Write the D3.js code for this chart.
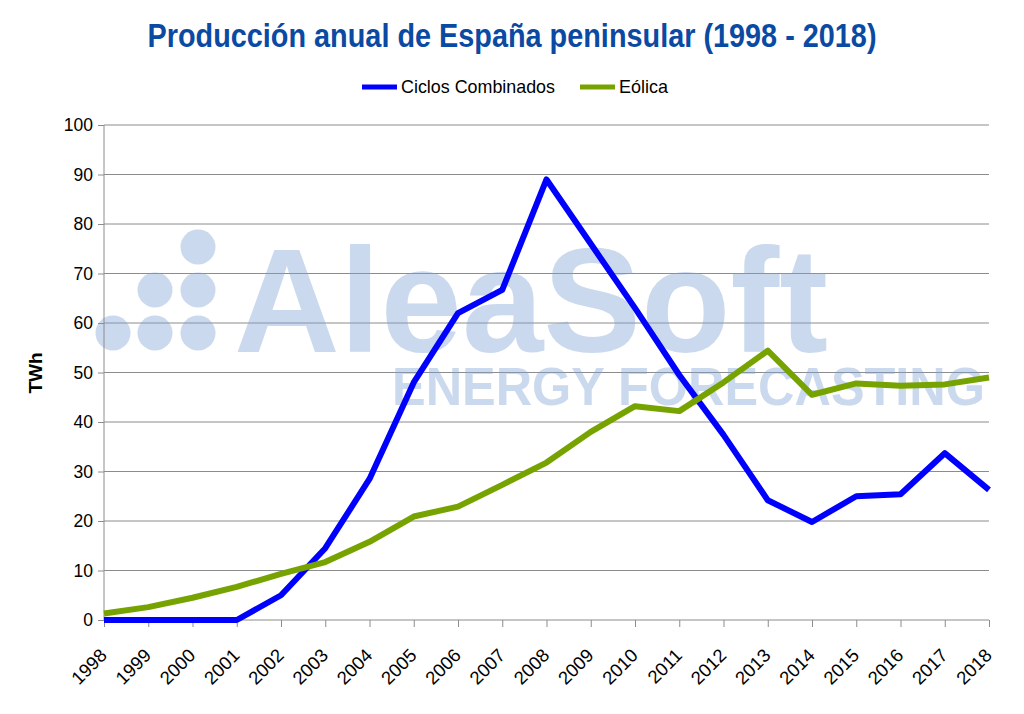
<!DOCTYPE html>
<html><head><meta charset="utf-8">
<script src="https://cdn.jsdelivr.net/npm/d3@7"></script>
<style>body{margin:0;background:#fff;}svg{display:block;}</style>
</head><body>
<svg id="c" width="1024" height="714"></svg>
<script>
const years = ["1998","1999","2000","2001","2002","2003","2004","2005","2006","2007","2008","2009","2010","2011","2012","2013","2014","2015","2016","2017","2018"];
const ciclosCombinados = [0,0,0,0,5,14.5,28.5,48,62,66.7,89,76,63,49.5,37.4,24.2,19.8,25,25.4,33.7,26.3];
const eolica = [1.3,2.6,4.5,6.7,9.3,11.7,15.8,20.9,22.9,27.3,31.8,38,43.2,42.2,48,54.4,45.5,47.8,47.3,47.6,49];
const yTicks = [0,10,20,30,40,50,60,70,80,90,100];
const seriesNames = ["Ciclos Combinados","Eólica"];
const colors = ["#0000ff","#77a300"];
const title = "Producción anual de España peninsular (1998 - 2018)";
const yTitle = "TWh";

const svg = d3.select("#c");
const m = {l:104, r:989, t:125, b:620};
const x = d3.scalePoint().domain(years).range([m.l, m.r]);
const y = d3.scaleLinear().domain([0,100]).range([m.b, m.t]);
const font = "'Liberation Sans', Arial, sans-serif";
const narrow = "'Liberation Sans Narrow', 'Liberation Sans', Arial, sans-serif";

// gridlines
svg.append("g").selectAll("line").data(yTicks.filter(d=>d>0)).join("line")
  .attr("x1", m.l).attr("x2", m.r).attr("y1", d=>y(d)).attr("y2", d=>y(d))
  .attr("stroke", "#8c8c8c").attr("stroke-width", 1);

// watermark
const wm = svg.append("g").attr("fill", "rgb(125,162,212)").attr("opacity", 0.4);
[[198,247],[155,290],[198,290],[113,333],[155,333],[198,333]].forEach(p=>{
  wm.append("circle").attr("cx", p[0]).attr("cy", p[1]).attr("r", 17.5);
});
wm.append("text").attr("x", 234).attr("y", 352).attr("font-family", font).attr("font-weight", "bold")
  .attr("font-size", 148).attr("textLength", 594).attr("lengthAdjust", "spacingAndGlyphs").text("AleaSoft");
wm.append("text").attr("x", 392).attr("y", 405).attr("font-family", font).attr("font-weight", "bold")
  .attr("font-size", 53).attr("textLength", 593).attr("lengthAdjust", "spacingAndGlyphs").text("ENERGY FORECASTING");

// y axis
const ya = svg.append("g").attr("transform", `translate(${m.l},0)`)
  .call(d3.axisLeft(y).tickValues(yTicks).tickSize(6).tickPadding(5));
ya.select(".domain").attr("stroke", "#8c8c8c").attr("d", `M0,${m.t}V${m.b}`);
ya.selectAll(".tick line").attr("stroke", "#8c8c8c");
ya.selectAll(".tick text").attr("font-family", font).attr("font-size", 17.5).attr("fill", "#000");

// x axis
const xa = svg.append("g").attr("transform", `translate(0,${m.b})`)
  .call(d3.axisBottom(x).tickSize(7).tickPadding(6));
xa.select(".domain").attr("stroke", "#8c8c8c").attr("d", `M${m.l},0H${m.r}`);
xa.selectAll(".tick line").attr("stroke", "#8c8c8c");
xa.selectAll(".tick text").attr("font-family", font).attr("font-size", 18.5).attr("fill", "#000")
  .attr("text-anchor", "end").attr("x", 0).attr("y", 0).attr("dy", "0.35em")
  .attr("transform", "translate(-1,32) rotate(-45)");

// lines
const line = d3.line().x((d,i)=>x(years[i])).y(d=>y(d));
[ciclosCombinados, eolica].forEach((s,i)=>{
  svg.append("path").datum(s).attr("d", line).attr("fill", "none")
    .attr("stroke", colors[i]).attr("stroke-width", 6).attr("stroke-linejoin", "round");
});

// title
svg.append("text").attr("x", 512).attr("y", 47).attr("text-anchor", "middle")
  .attr("font-family", narrow).attr("font-weight", "bold").attr("font-size", 34)
  .attr("fill", "#0b4aa3").attr("textLength", 729).attr("lengthAdjust", "spacingAndGlyphs").text(title);

// y title
svg.append("text").attr("transform", "translate(42,373) rotate(-90)").attr("text-anchor", "middle")
  .attr("font-family", font).attr("font-weight", "bold").attr("font-size", 19).text(yTitle);

// legend
const leg = [{x1:362, x2:397, tx:401, w:154},{x1:580, x2:615, tx:619, w:49}];
leg.forEach((l,i)=>{
  svg.append("line").attr("x1", l.x1).attr("x2", l.x2).attr("y1", 87).attr("y2", 87)
    .attr("stroke", colors[i]).attr("stroke-width", 5);
  svg.append("text").attr("x", l.tx).attr("y", 93).attr("font-family", narrow).attr("font-size", 19)
    .attr("textLength", l.w).attr("lengthAdjust", "spacingAndGlyphs").text(seriesNames[i]);
});
</script>
</body></html>
